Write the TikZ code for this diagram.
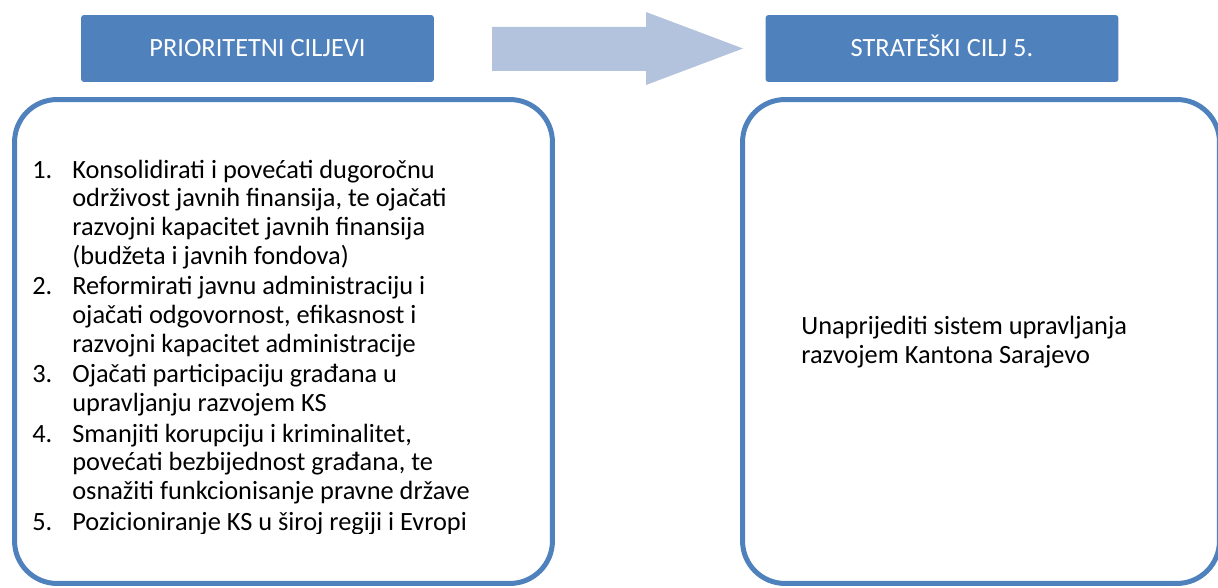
\documentclass[tikz,border=0pt]{standalone}
\usepackage{fontspec}
\setmainfont{Carlito}

\definecolor{ciljplava}{HTML}{4F81BD}
\definecolor{strelica}{HTML}{B3C3DD}

\newcommand{\broj}[1]{\makebox[0.8cm][l]{#1}}
\newcommand{\uvuci}{\hspace*{0.8cm}}

\begin{document}
\begin{tikzpicture}[x=0.02cm, y=-0.02cm,
        naslov/.style={fill=ciljplava, text=white, rounded corners=0.06cm,
            minimum width=7.06cm, minimum height=1.34cm, inner sep=0pt,
            text height=0.34cm, text depth=0cm, font=\fontsize{15}{16.3}\selectfont},
        okvir/.style={draw=ciljplava, line width=0.1cm, rounded corners=0.85cm,
            minimum height=9.68cm, inner sep=0pt},
        tekst/.style={inner sep=0pt, anchor=base west, align=left,
            font=\fontsize{15}{16.3}\selectfont}]
        \useasboundingbox (0,0) rectangle (1218,588);

        \node[naslov] (prioriteti) at (257.5,48.5) {PRIORITETNI CILJEVI};
        \node[naslov] (strateski) at (942,48.5) {STRATEŠKI CILJ 5.};

        \fill[strelica] (492,27) -- (646,27) -- (646,12) -- (743,48.5)
            -- (646,85) -- (646,71) -- (492,71) -- cycle;

        \node[okvir, minimum width=10.76cm] (lijevi) at (283.5,341.5) {};
        \node[okvir, minimum width=9.54cm] (desni) at (981,341.5) {};

        % base = baseline of the last line
        \begin{scope}
            \clip (14,100) rectangle (552,533);
            \node[tekst] (lista) at (32,530) {%
                \broj{1.}Konsolidirati i povećati dugoročnu\\
                \uvuci održivost javnih finansija, te ojačati\\
                \uvuci razvojni kapacitet javnih finansija\\
                \uvuci (budžeta i javnih fondova)\\[0.04cm]
                \broj{2.}Reformirati javnu administraciju i\\
                \uvuci ojačati odgovornost, efikasnost i\\
                \uvuci razvojni kapacitet administracije\\[0.04cm]
                \broj{3.}Ojačati participaciju građana u\\
                \uvuci upravljanju razvojem KS\\[0.04cm]
                \broj{4.}Smanjiti korupciju i kriminalitet,\\
                \uvuci povećati bezbijednost građana, te\\
                \uvuci osnažiti funkcionisanje pravne države\\[0.04cm]
                \broj{5.}Pozicioniranje KS u široj regiji i Evropi};
        \end{scope}

        \node[tekst] (cilj) at (801,363) {Unaprijediti sistem upravljanja\\
            razvojem Kantona Sarajevo};
\end{tikzpicture}
\end{document}
